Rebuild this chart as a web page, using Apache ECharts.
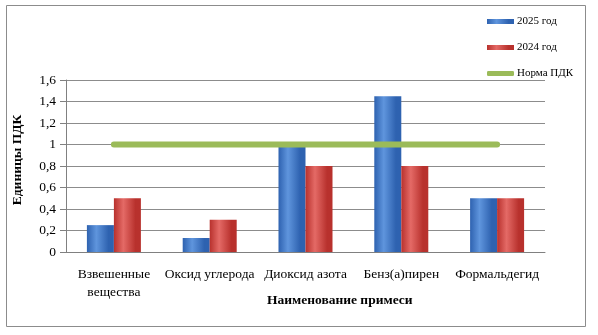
<!DOCTYPE html>
<html><head><meta charset="utf-8">
<script src="https://cdn.jsdelivr.net/npm/echarts@6/dist/echarts.min.js"></script>
<style>html,body{margin:0;padding:0;background:#fff}#c{width:598px;height:335px}</style>
</head><body><div id="c"></div>
<script>
const categories = ['Взвешенные\nвещества', 'Оксид углерода', 'Диоксид азота', 'Бенз(а)пирен', 'Формальдегид'];
const values2025 = [0.25, 0.13, 1.0, 1.45, 0.5];
const values2024 = [0.5, 0.3, 0.8, 0.8, 0.5];
const normPDK = [1, 1, 1, 1, 1];
const yTicks = ['0', '0,2', '0,4', '0,6', '0,8', '1', '1,2', '1,4', '1,6'];

const font = 'Liberation Serif, Times New Roman, serif';
function grad(dark, light) {
  return new echarts.graphic.LinearGradient(0, 0, 1, 0, [
    {offset: 0, color: dark}, {offset: 0.35, color: light}, {offset: 0.8, color: dark}, {offset: 1, color: dark}
  ]);
}
const chart = echarts.init(document.getElementById('c'));
chart.setOption({
  animation: false,
  textStyle: {fontFamily: font},
  grid: {left: 66, right: 53, top: 80, bottom: 83},
  graphic: [
    {type: 'rect', shape: {x: 6.5, y: 5.5, width: 579, height: 321}, style: {fill: 'none', stroke: '#8c8c8c', lineWidth: 1}, z: -1},
    {type: 'text', left: 267, top: 294, style: {text: 'Наименование примеси', font: 'bold 13.5px ' + font, fill: '#000'}},
    {type: 'text', x: 18, y: 160, rotation: Math.PI / 2,
      style: {text: 'Единицы ПДК', font: 'bold 13.5px ' + font, fill: '#000', align: 'center', verticalAlign: 'middle'}}
  ],
  legend: {
    orient: 'vertical', left: 482, top: 11, itemGap: 15, itemWidth: 27, itemHeight: 5,
    textStyle: {fontFamily: font, fontSize: 11, color: '#000', padding: [0, 0, 0, -2]},
    data: [
      {name: '2025 год', icon: 'rect'},
      {name: '2024 год', icon: 'rect'},
      {name: 'Норма ПДК', icon: 'roundRect'}
    ]
  },
  xAxis: {
    type: 'category', data: categories,
    axisLine: {lineStyle: {color: '#808080'}},
    axisTick: {show: false},
    axisLabel: {color: '#000', fontSize: 13.5, margin: 13, lineHeight: 18, fontFamily: font, interval: 0}
  },
  yAxis: {
    type: 'value', min: 0, max: 1.6, interval: 0.2,
    axisLine: {show: true, lineStyle: {color: '#808080'}},
    axisTick: {show: true, length: 6, lineStyle: {color: '#808080'}},
    splitLine: {lineStyle: {color: '#8c8c8c'}},
    axisLabel: {color: '#000', fontSize: 13.5, margin: 10, fontFamily: font,
      formatter: function (v) { return yTicks[Math.round(v / 0.2)]; }}
  },
  series: [
    {name: '2025 год', type: 'bar', data: values2025, barWidth: 27, barGap: '0%',
      itemStyle: {color: grad('#2e62b0', '#5f95dd')}},
    {name: '2024 год', type: 'bar', data: values2024, barWidth: 27,
      itemStyle: {color: grad('#b8312d', '#e46a66')}},
    {name: 'Норма ПДК', type: 'line', data: normPDK, symbol: 'none',
      lineStyle: {color: '#9bbb59', width: 6, cap: 'round'}, itemStyle: {color: '#9bbb59'}, z: 5}
  ]
});
</script></body></html>
